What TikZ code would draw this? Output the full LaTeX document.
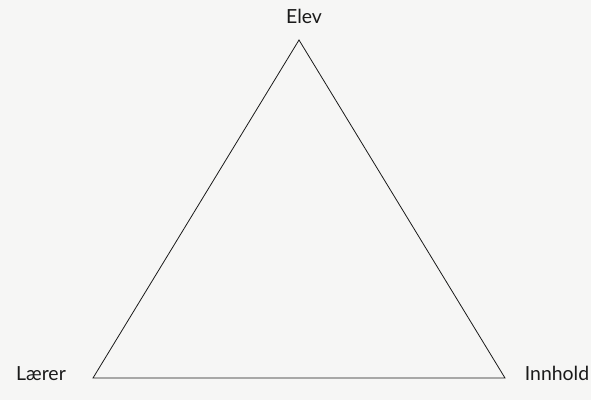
\documentclass[tikz,border=0pt]{standalone}
\usepackage{fontspec}
\setmainfont{Lato}
\definecolor{paper}{HTML}{F6F6F5}
\definecolor{ink}{HTML}{1A1A1A}
\begin{document}
\begin{tikzpicture}[x=1bp,y=-1bp,
  lbl/.style={font=\fontsize{19.5}{22}\selectfont,text=ink,inner sep=0pt,anchor=base},
  edge/.style={draw=ink,line width=0.8bp}]
\fill[paper] (0,0) rectangle (591,400);
\useasboundingbox (0,0) rectangle (591,400);
\coordinate (E) at (299,40);
\coordinate (L) at (93,378);
\coordinate (I) at (505,378);
\draw[edge,line join=miter] (E) -- (L) -- (I) -- cycle;
\node[lbl] (elev) at (304,23) {Elev};
\node[lbl] (laerer) at (41,380) {Lærer};
\node[lbl] (innhold) at (557,380) {Innhold};
\end{tikzpicture}
\end{document}
